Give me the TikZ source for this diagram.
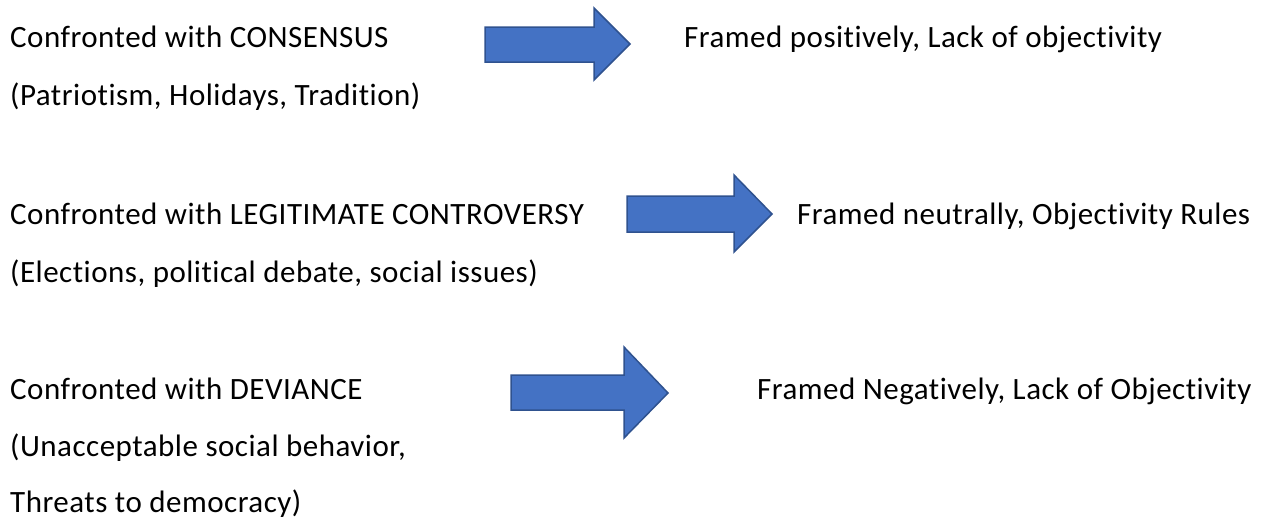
\documentclass[tikz,border=0pt]{standalone}
\usepackage{fontspec}
\setmainfont{Carlito}[Ligatures={NoCommon},LetterSpace=1.6]
\definecolor{arrowfill}{HTML}{4472C4}
\definecolor{arrowline}{HTML}{2F528F}
\begin{document}
\begin{tikzpicture}[x=1pt,y=-1pt,
  lbl/.style={anchor=base west,inner sep=0pt,font=\fontsize{31}{36}\selectfont},
  blockarrow/.style={fill=arrowfill,draw=arrowline,line width=1.5pt,line join=miter}]
\useasboundingbox (0,0) rectangle (1269,520);
% row 1
\node[lbl] (c1) at (10,47) {Confronted with CONSENSUS};
\node[lbl] (c1b) at (10,105) {(Patriotism, Holidays, Tradition)};
\node[lbl] (r1) at (684,47) {Framed positively, Lack of objectivity};
\draw[blockarrow] (485,27) -- (594,27) -- (594,8) -- (630,44) -- (594,80) -- (594,62) -- (485,62) -- cycle;
% row 2
\node[lbl] (c2) at (10,224) {Confronted with LEGITIMATE CONTROVERSY};
\node[lbl] (c2b) at (10,282) {(Elections, political debate, social issues)};
\node[lbl] (r2) at (797,224) {Framed neutrally, Objectivity Rules};
\draw[blockarrow] (627,196) -- (734,196) -- (734,175) -- (772,214) -- (734,252) -- (734,232) -- (627,232) -- cycle;
% row 3
\node[lbl] (c3) at (10,399) {Confronted with DEVIANCE};
\node[lbl] (c3b) at (10,456) {(Unacceptable social behavior,};
\node[lbl] (c3c) at (10,512) {Threats to democracy)};
\node[lbl] (r3) at (757,399) {Framed Negatively, Lack of Objectivity};
\draw[blockarrow] (511,375) -- (624,375) -- (624,347) -- (668,393) -- (624,438) -- (624,410) -- (511,410) -- cycle;
\end{tikzpicture}
\end{document}
